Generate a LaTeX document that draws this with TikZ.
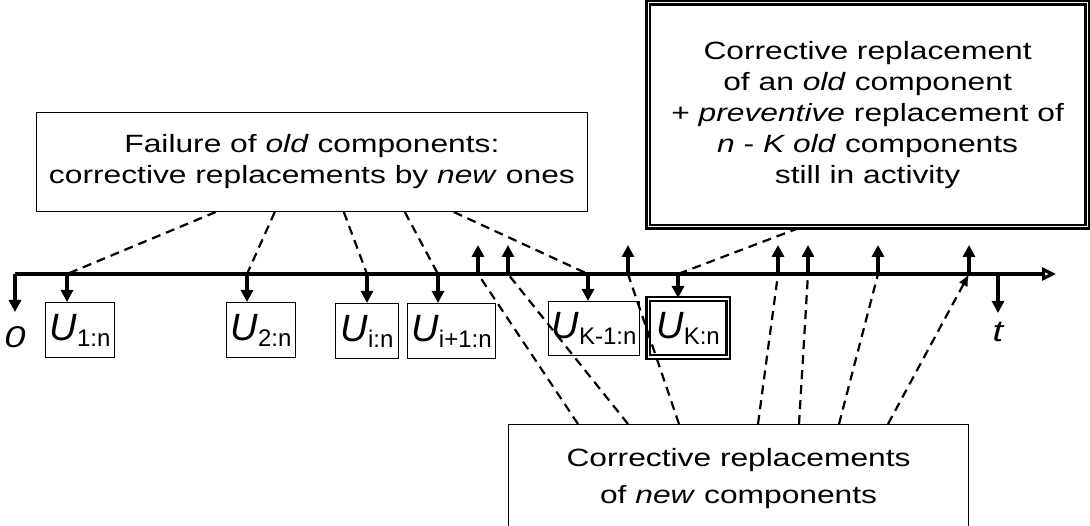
\documentclass[tikz,border=0pt]{standalone}
\usepackage{fontspec}
\setmainfont{Liberation Sans}
\newfontfamily\widefont[FakeStretch=1.27]{Liberation Sans}
\usetikzlibrary{arrows.meta, positioning, calc}

\newcommand{\ulab}[1]{{\fontsize{38}{38}\selectfont\itshape U}{\fontsize{24}{24}\selectfont\raisebox{-6pt}{#1}}}

\begin{document}
\begin{tikzpicture}[x=1pt, y=-1pt,
  txt/.style={font=\widefont\fontsize{25}{31}\selectfont, align=center},
  infobox/.style={draw, line width=1.2pt, txt, inner sep=6pt},
  dblbox/.style={line width=2.2pt, double, double distance=1.2pt},
  ubox/.style={draw, line width=1.2pt, minimum height=55pt, inner sep=1pt, anchor=north west},
  tick/.style={line width=3.8pt, -{Triangle[length=12pt, width=12pt]}},
  axis/.style={line width=3.2pt, -{Triangle[open, length=14pt, width=13pt]}},
  link/.style={line width=2.2pt, dash pattern=on 9pt off 6pt}]
\clip (0,0) rectangle (1090,526);

% points on the time axis
\foreach \n/\x in {z/15, d1/67, d2/247, di/367, dip/438, dkm/588, dk/678, dt/998}
  \coordinate (\n) at (\x,274);
\foreach \n/\x in {p1/478, p2/508, p3/628, p4/778, p5/808, p6/878, p7/969}
  \coordinate (\n) at (\x,274);
\coordinate (tips) at (0,245);
\coordinate (axend) at (1056,274);
\coordinate (zend) at (15,312);
\coordinate (tend) at (998,313);

% order statistics
\node[ubox, minimum width=69pt] (u1) at (45,302) {\ulab{1:n}};
\node[ubox, minimum width=69pt] (u2) at (226,302) {\ulab{2:n}};
\node[ubox, minimum width=63pt] (ui) at (335,303) {\ulab{i:n}};
\node[ubox, minimum width=88pt] (uip) at (407,303) {\ulab{i+1:n}};
\node[ubox, minimum width=91pt, minimum height=54pt] (ukm) at (548,301) {\ulab{K-1:n}};
\node[ubox, dblbox, minimum width=80pt, minimum height=58pt] (uk) at (647,298) {\ulab{K:n}};

\node[font=\widefont\fontsize{30}{30}\selectfont\itshape, inner sep=0pt] (zero) at (15,337) {0};
\node[font=\widefont\fontsize{30}{30}\selectfont\itshape, inner sep=0pt] (tlab) at (998,332) {t};

% the three comment boxes
\node[infobox, anchor=south east, minimum width=551pt, minimum height=99pt] (tl) at (588,212)
  {Failure of \textit{old} components:\\corrective replacements by \textit{new} ones};
\node[infobox, dblbox, anchor=south west, minimum width=439pt, minimum height=224pt] (tr) at (647,228)
  {Corrective replacement\\of an \textit{old} component\\+ \textit{preventive} replacement of\\\textit{n} - \textit{K old} components\\still in activity};
\node[draw, line width=1.2pt, anchor=north west, minimum width=460pt, minimum height=160pt] (bt) at (508,424) {};
\node[txt, anchor=north, inner sep=4pt, font=\widefont\fontsize{25}{37}\selectfont] (btlab) at ([yshift=-20pt]bt.north)
  {Corrective replacements\\of \textit{new} components};

% time axis
\draw[axis] (z) -- (axend);
\draw[tick] (z) -- (zend);
\draw[tick] (dt) -- (tend);
\foreach \d/\u in {d1/u1, d2/u2, di/ui, dip/uip, dkm/ukm, dk/uk}
  \draw[tick] (\d) -- (\d |- \u.north);
\foreach \p in {p1, p2, p3, p4, p5, p6, p7}
  \draw[tick] (\p) -- (\p |- tips);

% dashed links
\foreach \s/\t in {180/d1, 239/d2, 308/di, 369/dip, 418/dkm}
  \draw[link] ($(tl.south west)+(\s,0)$) -- (\t);
\draw[link] ($(tr.south west)+(152,0)$) -- (dk);
\foreach \s/\t in {70/p1, 120/p2, 171/p3, 250/p4, 291/p5, 331/p6}
  \draw[link] ($(bt.north west)+(\s,0)$) -- (\t);
\draw[link, -{Latex[length=12pt, width=10pt]}] ($(bt.north west)+(380,0)$) -- (p7);
\end{tikzpicture}
\end{document}
